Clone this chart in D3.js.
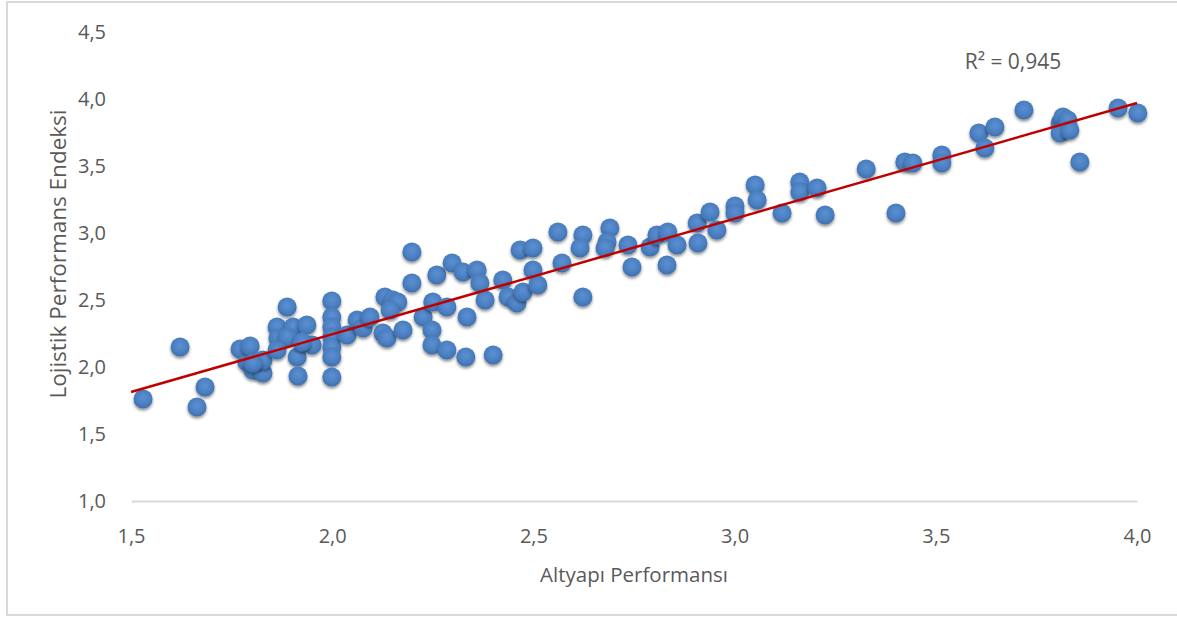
<!DOCTYPE html>
<html>
<head>
<meta charset="utf-8">
<script src="https://cdn.jsdelivr.net/npm/d3@7/dist/d3.min.js"></script>
<style>
  html, body { margin: 0; padding: 0; background: #fff; }
  svg { display: block; }
  text { font-family: "Open Sans", "Noto Sans", sans-serif; fill: #595959; }
</style>
</head>
<body>
<svg id="chart" width="1177" height="618"></svg>
<script>
// Altyapı Performansı (x) values
const altyapi = [
  1.530, 1.622, 1.684, 1.664, 1.771, 1.788, 1.803, 1.796, 1.828, 1.828, 1.803,
  1.888, 1.863, 1.865, 1.903, 1.937, 1.888, 1.863, 1.913, 1.915, 1.950, 1.925,
  1.999, 1.999, 1.999, 1.999, 1.999, 1.999, 1.999,
  2.037, 2.062, 2.077, 2.094, 2.131, 2.151, 2.163, 2.126, 2.136, 2.176, 2.144,
  2.198, 2.198, 2.226, 2.250, 2.285, 2.248, 2.248, 2.285, 2.332, 2.260, 2.298,
  2.325, 2.360, 2.367, 2.380, 2.335, 2.400, 2.424, 2.437, 2.459, 2.474, 2.467,
  2.499, 2.499, 2.511, 2.561, 2.571, 2.623, 2.616, 2.623, 2.690, 2.683, 2.678,
  2.735, 2.745, 2.790, 2.807, 2.834, 2.857, 2.832, 2.907, 2.909, 2.939, 2.956,
  3.001, 3.001, 3.051, 3.056, 3.118, 3.162, 3.162, 3.205, 3.225, 3.327, 3.401,
  3.423, 3.443, 3.515, 3.515, 3.607, 3.647, 3.622, 3.719, 3.809, 3.816, 3.828,
  3.809, 3.833, 3.858, 3.953, 4.002
];
// Lojistik Performans Endeksi (y) values
const lojistik = [
  1.761, 2.149, 1.851, 1.701, 2.134, 2.037, 1.978, 2.157, 1.955, 2.052, 2.030,
  2.448, 2.299, 2.216, 2.299, 2.313, 2.224, 2.127, 2.075, 1.933, 2.164, 2.187,
  2.493, 2.373, 2.299, 2.224, 2.149, 2.075, 1.925,
  2.239, 2.351, 2.291, 2.373, 2.522, 2.500, 2.485, 2.254, 2.216, 2.276, 2.425,
  2.858, 2.627, 2.373, 2.485, 2.448, 2.276, 2.164, 2.127, 2.075, 2.687, 2.776,
  2.709, 2.724, 2.627, 2.500, 2.373, 2.090, 2.649, 2.522, 2.478, 2.560, 2.873,
  2.888, 2.724, 2.612, 3.007, 2.776, 2.985, 2.888, 2.522, 3.037, 2.933, 2.888,
  2.910, 2.746, 2.896, 2.985, 3.007, 2.910, 2.761, 3.075, 2.925, 3.157, 3.022,
  3.201, 3.149, 3.358, 3.246, 3.149, 3.381, 3.306, 3.336, 3.134, 3.478, 3.149,
  3.530, 3.522, 3.582, 3.522, 3.746, 3.791, 3.634, 3.918, 3.821, 3.866, 3.843,
  3.746, 3.769, 3.530, 3.933, 3.896
];
// Linear trendline and its label
const trendX = [1.5, 4.0];
const trendY = [1.813, 3.970];
const r2Label = "R² = 0,945";

const xTicks = [1.5, 2.0, 2.5, 3.0, 3.5, 4.0];
const yTicks = [1.0, 1.5, 2.0, 2.5, 3.0, 3.5, 4.0, 4.5];
const xTitle = "Altyapı Performansı";
const yTitle = "Lojistik Performans Endeksi";

const fmt = v => v.toFixed(1).replace(".", ",");

const svg = d3.select("#chart");
const W = 1177, H = 618;

// outer chart border
svg.append("rect")
  .attr("x", 7).attr("y", 2).attr("width", W + 10).attr("height", 613)
  .attr("fill", "#fff").attr("stroke", "#d9d9d9").attr("stroke-width", 2);

const x = d3.scaleLinear().domain([1.5, 4.0]).range([131, 1137]);
const y = d3.scaleLinear().domain([1.0, 4.5]).range([501, 32]);

const defs = svg.append("defs");
const grad = defs.append("radialGradient").attr("id", "dotGrad")
  .attr("cx", "50%").attr("cy", "42%").attr("r", "60%");
grad.append("stop").attr("offset", "0%").attr("stop-color", "#5b90d3");
grad.append("stop").attr("offset", "65%").attr("stop-color", "#4a7ebf");
grad.append("stop").attr("offset", "100%").attr("stop-color", "#3c6dab");
const f = defs.append("filter").attr("id", "shadow")
  .attr("x", "-50%").attr("y", "-50%").attr("width", "200%").attr("height", "200%");
f.append("feDropShadow").attr("dx", 0).attr("dy", 2).attr("stdDeviation", 1.6)
  .attr("flood-color", "#000").attr("flood-opacity", 0.45);

// x axis line (bottom)
const xAxis = d3.axisBottom(x).tickValues(xTicks).tickFormat(fmt).tickSize(0).tickPadding(28);
const gx = svg.append("g").attr("transform", "translate(0,501)").call(xAxis);
gx.select(".domain").attr("stroke", "#d9d9d9").attr("stroke-width", 2);
gx.selectAll("text").style("font-size", "20px").attr("fill", "#595959");

const yAxis = d3.axisLeft(y).tickValues(yTicks).tickFormat(fmt).tickSize(0).tickPadding(25);
const gy = svg.append("g").attr("transform", "translate(131,0)").call(yAxis);
gy.select(".domain").remove();
gy.selectAll("text").style("font-size", "20px").attr("fill", "#595959");
svg.selectAll("g").attr("font-family", null);

// points
const pts = altyapi.map((v, i) => ({ x: v, y: lojistik[i] }));
svg.append("g").selectAll("circle").data(pts).join("circle")
  .attr("cx", d => x(d.x)).attr("cy", d => y(d.y)).attr("r", 9.5)
  .attr("fill", "url(#dotGrad)").attr("filter", "url(#shadow)");

// trendline
svg.append("line")
  .attr("x1", x(trendX[0])).attr("y1", y(trendY[0]))
  .attr("x2", x(trendX[1])).attr("y2", y(trendY[1]))
  .attr("stroke", "#c00000").attr("stroke-width", 2.5);

// R² label
svg.append("text").attr("x", 1013).attr("y", 69).attr("text-anchor", "middle")
  .style("font-size", "21px").attr("fill", "#404040").text(r2Label);

// axis titles
svg.append("text").attr("x", 634).attr("y", 582).attr("text-anchor", "middle")
  .style("font-size", "20.5px").text(xTitle);
svg.append("text").attr("transform", "translate(66,254) rotate(-90)")
  .attr("text-anchor", "middle").style("font-size", "22.5px").text(yTitle);
</script>
</body>
</html>
